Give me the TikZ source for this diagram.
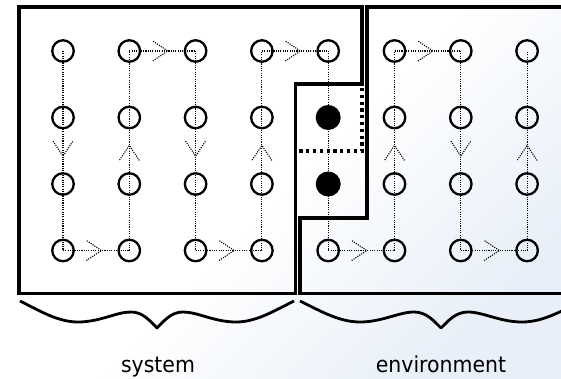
\documentclass[tikz,border=0pt]{standalone}
\usepackage{fontspec}
\newfontfamily\lblfont[FakeStretch=0.93]{DejaVu Sans}
\usetikzlibrary{decorations.markings}
\definecolor{bgblue}{RGB}{232,239,248}
\tikzset{
  dotline/.style={line width=1.1pt, dash pattern=on 1.1pt off 1.2pt},
  arr/.style={dotline, postaction={decorate},
    decoration={markings, mark=at position 0.58 with {\draw[dotline] (-15pt,-10pt) -- (0pt,0pt) -- (-15pt,10pt);}}},
  hollow/.style={circle, draw, line width=2.3pt, minimum size=21.5pt, inner sep=0pt},
  blackdot/.style={circle, fill=black, minimum size=25pt, inner sep=0pt},
  boxline/.style={line width=3.4pt, line join=miter},
  sepline/.style={line width=3.4pt, dash pattern=on 3.2pt off 3.6pt},
  braceline/.style={line width=2.8pt, line join=round},
  lbl/.style={font=\lblfont\fontsize{22}{26}\selectfont, anchor=base, inner sep=0pt}
}
\begin{document}
\begin{tikzpicture}[x=1pt, y=-1pt]
\useasboundingbox (0,0) rectangle (561,379);
\clip (0,0) rectangle (561,379);
\shade[top color=white, bottom color=bgblue, middle color=white, shading angle=45] (0,0) rectangle (561,379);

% grid nodes
\foreach \i in {1,2,3,4,6,7,8}{
  \foreach \j in {1,2,3,4}{
    \node[hollow] (c\i\j) at ({63+66.3*(\i-1)},{51+66.5*(\j-1)}) {};
  }
}
\node[hollow] (c51) at ({63+66.3*4},51) {};
\node[hollow] (c54) at ({63+66.3*4},{51+66.5*3}) {};
\node[blackdot] (c52) at ({63+66.3*4},{51+66.5}) {};
\node[blackdot] (c53) at ({63+66.3*4},{51+66.5*2}) {};

% snake path
\draw[dotline] (c11.center) -- (c12.center);
\draw[arr] (c12.center) -- (c13.center);
\draw[dotline] (c13.center) -- (c14.center);
\draw[arr] (c14.center) -- (c24.center);
\draw[dotline] (c24.center) -- (c23.center);
\draw[arr] (c23.center) -- (c22.center);
\draw[dotline] (c22.center) -- (c21.center);
\draw[arr] (c21.center) -- (c31.center);
\draw[dotline] (c31.center) -- (c32.center);
\draw[arr] (c32.center) -- (c33.center);
\draw[dotline] (c33.center) -- (c34.center);
\draw[arr] (c34.center) -- (c44.center);
\draw[dotline] (c44.center) -- (c43.center);
\draw[arr] (c43.center) -- (c42.center);
\draw[dotline] (c42.center) -- (c41.center);
\draw[arr] (c41.center) -- (c51.center);
\draw[dotline] (c51.center) -- (c52.center);
\draw[dotline] (c52.center) -- (c53.center);
\draw[dotline] (c53.center) -- (c54.center);
\draw[arr] (c54.center) -- (c64.center);
\draw[dotline] (c64.center) -- (c63.center);
\draw[arr] (c63.center) -- (c62.center);
\draw[dotline] (c62.center) -- (c61.center);
\draw[arr] (c61.center) -- (c71.center);
\draw[dotline] (c71.center) -- (c72.center);
\draw[arr] (c72.center) -- (c73.center);
\draw[dotline] (c73.center) -- (c74.center);
\draw[arr] (c74.center) -- (c84.center);
\draw[dotline] (c84.center) -- (c83.center);
\draw[arr] (c83.center) -- (c82.center);
\draw[dotline] (c82.center) -- (c81.center);

% boxes
\draw[boxline] (19,7) -- (362,7) -- (362,84) -- (295.5,84) -- (295.5,293.5) -- (19,293.5) -- cycle;
\draw[boxline] (575,7) -- (367,7) -- (367,218) -- (300,218) -- (300,293.5) -- (575,293.5);
\draw[sepline] (362,88) -- (362,151) -- (298,151);

% braces
\draw[braceline] (20,301) .. controls (40,311) and (58,322) .. (78,322)
  .. controls (100,322) and (116,312) .. (131,312)
  .. controls (143,312) and (150,321) .. (157,328)
  .. controls (164,321) and (171,312) .. (183,312)
  .. controls (198,312) and (214,322) .. (236,322)
  .. controls (256,322) and (274,311) .. (294,301);
\draw[braceline] (300,301) .. controls (320.5,311) and (339,322) .. (360,322)
  .. controls (382,322) and (399,312) .. (414,312)
  .. controls (426.6,312) and (433.8,321) .. (441,328)
  .. controls (448.2,321) and (455.4,312) .. (468,312)
  .. controls (483,312) and (500,322) .. (522,322)
  .. controls (543,322) and (561.5,311) .. (582,301);

% labels
\node[lbl] (sys) at (158,372) {system};
\node[lbl] (env) at (441,372) {environment};
\end{tikzpicture}
\end{document}
